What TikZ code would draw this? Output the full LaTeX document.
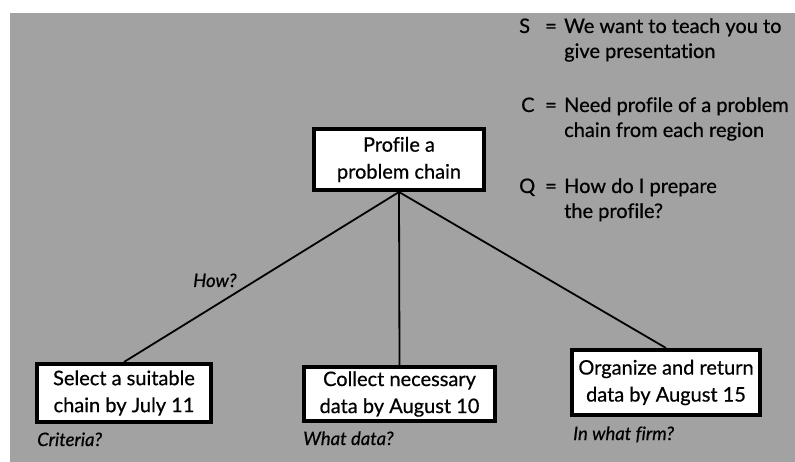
\documentclass[tikz,border=0pt]{standalone}
\usepackage{fontspec}
\setmainfont{Lato}[Ligatures=NoCommon]
\newcommand{\heavier}{\addfontfeature{FakeBold=0.6}}
\begin{document}
\begin{tikzpicture}[x=1pt,y=-1pt,
  box/.style={draw=black,line width=4pt,fill=white,align=center,inner sep=2pt,
    font=\fontsize{20}{27}\selectfont\heavier},
  link/.style={draw=black,line width=1.8pt},
  note/.style={anchor=base west,inner sep=0pt,font=\fontsize{18.5}{20}\selectfont\itshape\heavier},
  scq/.style={anchor=base west,inner sep=0pt,font=\fontsize{20}{25}\selectfont\heavier}]
\definecolor{paper}{RGB}{162,162,162}
\useasboundingbox (0,0) rectangle (795,462);
% sheet of paper
\fill[white] (0,0) rectangle (795,462);
\fill[paper] (10,13) rectangle (795,462);

% boxes
\node[box,minimum width=170pt,minimum height=61pt] (top) at (399,159.5)
  {Profile a\\problem chain};
\node[box,minimum width=174pt,minimum height=58pt] (left) at (124,393)
  {Select a suitable\\chain by July 11};
\node[box,minimum width=191pt,minimum height=54pt] (mid) at (399.5,394)
  {Collect necessary\\data by August 10};
\node[box,minimum width=188pt,minimum height=65pt] (right) at (666,382.5)
  {Organize and return\\data by August 15};

% connectors
\draw[link] (top.south) -- (left.north);
\draw[link] (top.south) -- (mid.north);
\draw[link] (top.south) -- (right.north);

% questions
\node[note] (how) at (193,287) {How?};
\node[note] (crit) at (37,446) {Criteria?};
\node[note] (what) at (303,445) {What data?};
\node[note] (firm) at (573,440) {In what firm?};

% situation, complication, question
\node[scq] (sL) at (519,33) {S};
\node[scq] (sE) at (545,33) {=};
\node[scq] (s1) at (564,33) {We want to teach you to};
\node[scq] (s2) at (564,58) {give presentation};
\node[scq] (cL) at (521,112) {C};
\node[scq] (cE) at (545,112) {=};
\node[scq] (c1) at (564,112) {Need profile of a problem};
\node[scq] (c2) at (564,137) {chain from each region};
\node[scq] (qL) at (519,193) {Q};
\node[scq] (qE) at (545,193) {=};
\node[scq] (q1) at (564,193) {How do I prepare};
\node[scq] (q2) at (564,218) {the profile?};
\end{tikzpicture}
\end{document}
